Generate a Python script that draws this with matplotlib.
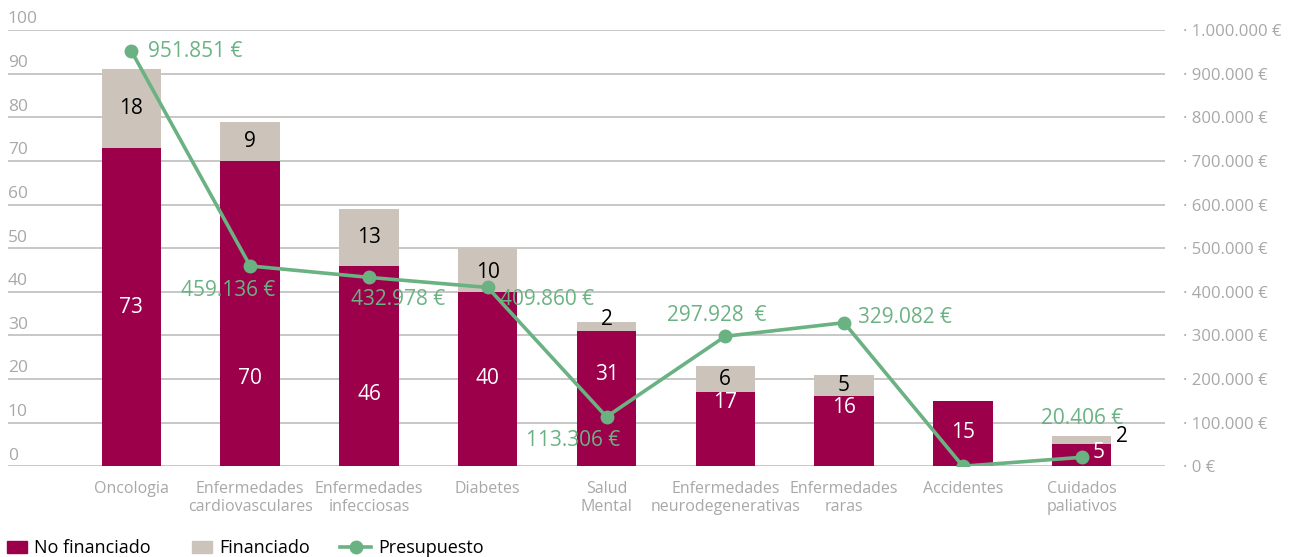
import numpy as np
import matplotlib.pyplot as plt
from matplotlib.patches import Patch
from matplotlib.lines import Line2D
from matplotlib.transforms import blended_transform_factory

plt.rcParams['font.family'] = ['Open Sans', 'DejaVu Sans']

categories = ["Oncologia", "Enfermedades\ncardiovasculares", "Enfermedades\ninfecciosas",
              "Diabetes", "Salud\nMental", "Enfermedades\nneurodegenerativas",
              "Enfermedades\nraras", "Accidentes", "Cuidados\npaliativos"]
no_financiado = [73, 70, 46, 40, 31, 17, 16, 15, 5]
financiado = [18, 9, 13, 10, 2, 6, 5, 0, 2]
presupuesto = [951851, 459136, 432978, 409860, 113306, 297928, 329082, 0, 20406]
presupuesto_labels = ["951.851 €", "459.136 €", "432.978 €", "409.860 €", "113.306 €",
                      "297.928  €", "329.082 €", None, "20.406 €"]

# layout of the annotations (label positions, offsets in points)
nf_label_y = [36.5, 20, 16.5, 20, 21, 14.5, 13.5, 7.8, 3.2]
f_label_pos = [(0, 82), (0, 74.5), (0, 52.5), (0, 44.5), (0, 33.6), (0, 19.8), (0, 18.5), None, (0.34, 6.9)]
nf_label_dx = [0, 0, 0, 0, 0, 0, 0, 0, 0.14]
pres_offsets = [((12, 0), 'left'), ((-16, -18), 'center'), ((21, -16), 'center'),
                ((9, -9), 'left'), ((-24, -17), 'center'), ((-6, 15), 'center'),
                ((10, 4), 'left'), None, ((0, 28), 'center')]

crimson = '#9C004B'
beige = '#CCC4BB'
green = '#6BB283'
grid_gray = '#BDBDBD'
text_gray = '#A8A8A8'


class LineHandler:
    def legend_artist(self, legend, orig_handle, fontsize, handlebox):
        x0, y0 = handlebox.xdescent, handlebox.ydescent
        w, h = handlebox.width, handlebox.height
        xs = [x0 - 8, x0 + w]
        line = Line2D(xs, [y0 + h / 2] * 2, color=green, linewidth=2.6)
        dot = Line2D([(xs[0] + xs[1]) / 2], [y0 + h / 2], color=green, marker='o', markersize=9)
        handlebox.add_artist(line)
        handlebox.add_artist(dot)
        return line


fig = plt.figure(figsize=(13.08, 5.57), dpi=100)
ax = fig.add_axes([0.006, 0.163, 0.8845, 0.783])
x = np.arange(len(categories))

ax.bar(x, no_financiado, width=0.5, color=crimson, zorder=2)
ax.bar(x, financiado, width=0.5, bottom=no_financiado, color=beige, zorder=2)

ax.set_xlim(-1.04, 8.70)
ax.set_ylim(0, 100)
ax.set_yticks(np.arange(0, 101, 10))
ax.yaxis.grid(True, color=grid_gray, linewidth=1.2, zorder=0)
ax.tick_params(axis='y', length=0, labelleft=False)
for s in ax.spines.values():
    s.set_visible(False)
ax.set_xticks(x)
ax.set_xticklabels(categories, color=text_gray, fontsize=11.5, linespacing=1.15)
ax.tick_params(axis='x', length=0, pad=11)

trans = blended_transform_factory(ax.transAxes, ax.transData)
for v in range(0, 101, 10):
    ax.text(0.0, v + 0.6, str(v), transform=trans, ha='left', va='bottom',
            color=text_gray, fontsize=12.5)

ax2 = ax.twinx()
ax2.set_ylim(0, 1000000)
ticks2 = np.arange(0, 1000001, 100000)
ax2.set_yticks(ticks2)
ax2.set_yticklabels(["· " + f"{int(t):,}".replace(",", ".") + " €" for t in ticks2],
                    color=text_gray, fontsize=12)
ax2.tick_params(axis='y', length=0, pad=13)
for s in ax2.spines.values():
    s.set_visible(False)

ax2.plot(x, presupuesto, color=green, linewidth=2.6, marker='o', markersize=9, zorder=3)

for i in x:
    ax2.text(i + nf_label_dx[i], nf_label_y[i] * 10000, str(no_financiado[i]),
             ha='center', va='center', color='white', fontsize=15, zorder=4)
    if f_label_pos[i] is not None:
        dx, yy = f_label_pos[i]
        ax2.text(i + dx, yy * 10000, str(financiado[i]), ha='center', va='center',
                 color='black', fontsize=15, zorder=4)
    if presupuesto_labels[i] is not None:
        off, ha = pres_offsets[i]
        ax2.annotate(presupuesto_labels[i], (i, presupuesto[i]), xytext=off,
                     textcoords='offset points', ha=ha, va='center',
                     color=green, fontsize=15, zorder=4)

line_handle = Line2D([0], [0], color=green)
handles = [Patch(color=crimson), Patch(color=beige), line_handle]
fig.legend(handles, ["No financiado", "Financiado", "Presupuesto"], loc='lower left',
           bbox_to_anchor=(-0.003, -0.02), ncol=3, frameon=False, fontsize=13,
           handlelength=1.1, columnspacing=2.3, handletextpad=0.4, borderaxespad=0.2,
           handler_map={line_handle: LineHandler()})

fig.savefig('out.png', dpi=100)
